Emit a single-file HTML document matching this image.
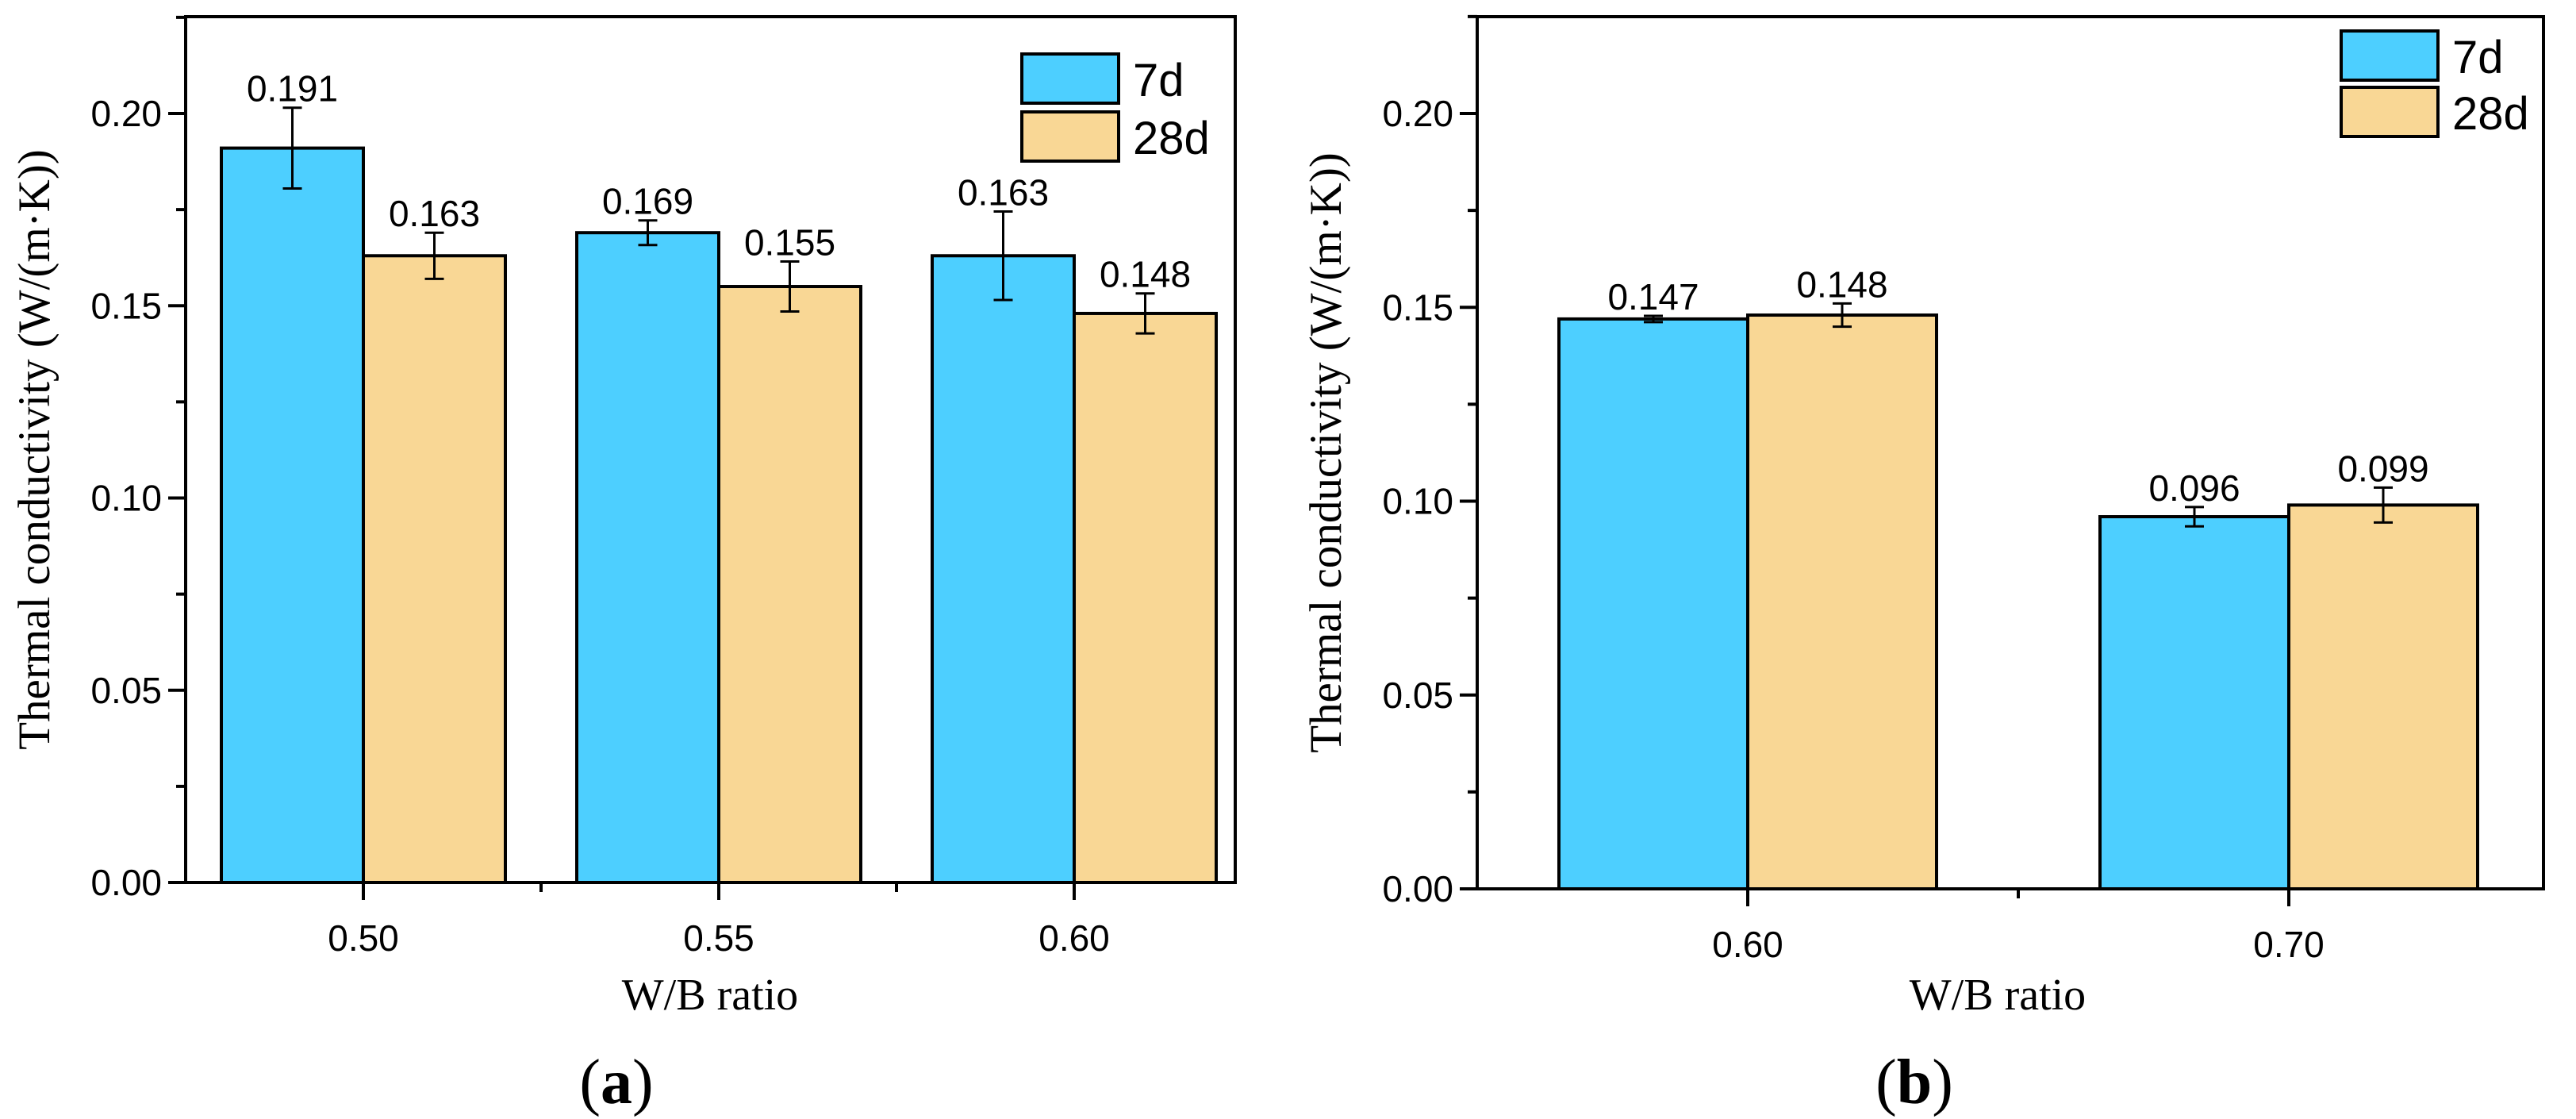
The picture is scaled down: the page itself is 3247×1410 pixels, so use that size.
<!DOCTYPE html>
<html><head><meta charset="utf-8"><style>
html,body{margin:0;padding:0;background:#fff;}
svg{display:block;}
</style></head><body>
<svg id="chart" width="3247" height="1410" xmlns="http://www.w3.org/2000/svg"></svg>
<script>
const catsA = ["0.50","0.55","0.60"];
const d7A = [0.191,0.169,0.163];
const d28A = [0.163,0.155,0.148];
const e7A = [0.0105,0.0032,0.0115];
const e28A = [0.006,0.0065,0.0052];
const lbl7A = ["0.191","0.169","0.163"];
const lbl28A = ["0.163","0.155","0.148"];
const catsB = ["0.60","0.70"];
const d7B = [0.147,0.096];
const d28B = [0.148,0.099];
const e7B = [0.0008,0.0025];
const e28B = [0.003,0.0045];
const lbl7B = ["0.147","0.096"];
const lbl28B = ["0.148","0.099"];
const yTicks = [0,0.05,0.10,0.15,0.20];
const yTickLabels = ["0.00","0.05","0.10","0.15","0.20"];

const NS="http://www.w3.org/2000/svg";
const svg=document.getElementById('chart');
function mk(tag,attrs,parent,text){const e=document.createElementNS(NS,tag);for(const k in attrs)e.setAttribute(k,attrs[k]);if(text!==undefined)e.textContent=text;(parent||svg).appendChild(e);return e;}

function panel(cfg){
  const g=mk('g',{});
  
  
  const yS=v=>cfg.bottom-(cfg.bottom-cfg.y20)*v/0.20;
  const xS=i=>cfg.cx0+i*cfg.sp;
  const bw=cfg.bw;
  cfg.cats.forEach((c,i)=>{
    [[cfg.d7,cfg.e7,cfg.l7,'#4dcfff',-1,'7d'],[cfg.d28,cfg.e28,cfg.l28,'#f9d795',0,'28d']].forEach(([d,e,l,col,off,s])=>{
      const x=xS(i)+off*bw;
      const r=mk('rect',{x:x,y:yS(d[i]),width:bw,height:yS(0)-yS(d[i]),fill:col,stroke:'#000','stroke-width':4},g);
      
      
      const cx=x+bw/2, t=yS(d[i]+e[i]), b=yS(d[i]-e[i]);
      const eb=mk('path',{d:`M${cx},${t}V${b}M${cx-12},${t}H${cx+12}M${cx-12},${b}H${cx+12}`,stroke:'#000','stroke-width':3,fill:'none'},g);
      
      
      const tx=mk('text',{x:cx,y:t-8,'text-anchor':'middle','font-family':'Liberation Sans, sans-serif','font-size':46},g,l[i]);
      
      
    });
    const tk=mk('line',{x1:xS(i),x2:xS(i),y1:cfg.bottom,y2:cfg.bottom+22,stroke:'#000','stroke-width':4},g);
    
    
    const tl=mk('text',{x:xS(i),y:cfg.bottom+86,'text-anchor':'middle','font-family':'Liberation Sans, sans-serif','font-size':46},g,c);
    
    
    if(i<cfg.cats.length-1){
      const mt=mk('line',{x1:xS(i+0.5),x2:xS(i+0.5),y1:cfg.bottom,y2:cfg.bottom+12,stroke:'#000','stroke-width':4},g);
      
      
    }
  });
  yTicks.forEach((v,k)=>{
    const t=mk('line',{x1:cfg.left-22,x2:cfg.left,y1:yS(v),y2:yS(v),stroke:'#000','stroke-width':4},g);
    
    
    const m=mk('line',{x1:cfg.left-12,x2:cfg.left,y1:yS(v+0.025),y2:yS(v+0.025),stroke:'#000','stroke-width':4},g);
    
    
    const l=mk('text',{x:cfg.left-30,y:yS(v)+16,'text-anchor':'end','font-family':'Liberation Sans, sans-serif','font-size':46},g,yTickLabels[k]);
    
    
  });
  const fr=mk('rect',{x:cfg.left,y:cfg.top,width:cfg.right-cfg.left,height:cfg.bottom-cfg.top,fill:'none',stroke:'#000','stroke-width':4},g);
  
  
  [['7d','#4dcfff',cfg.lg.y1],['28d','#f9d795',cfg.lg.y2]].forEach(([n,c,y])=>{
    const r=mk('rect',{x:cfg.lg.x,y:y,width:122,height:62,fill:c,stroke:'#000','stroke-width':4},g);
    
    
    const t=mk('text',{x:cfg.lg.x+140,y:y+53,'font-family':'Liberation Sans, sans-serif','font-size':58},g,n);
    
    
  });
  const yt=mk('text',{x:0,y:0,transform:`translate(${cfg.ytx},${(cfg.top+cfg.bottom)/2}) rotate(-90)`,'text-anchor':'middle','font-family':'Liberation Serif, serif','font-size':57},g,'Thermal conductivity (W/(m·K))');
  
  
  const xt=mk('text',{x:cfg.xtx,y:1272,'text-anchor':'middle','font-family':'Liberation Serif, serif','font-size':56},g,'W/B ratio');
  
  
  const pl=mk('text',{x:cfg.plx,y:1390,'text-anchor':'middle','font-family':'Liberation Serif, serif','font-size':80},g);
  
  
  mk('tspan',{},pl,'(');
  mk('tspan',{'font-weight':'bold'},pl,cfg.pl);
  mk('tspan',{},pl,')');
}
panel({name:'panel-a',cats:catsA,d7:d7A,d28:d28A,e7:e7A,e28:e28A,l7:lbl7A,l28:lbl28A,
  left:234,right:1557,top:21,bottom:1112,y20:143,cx0:458,sp:448,bw:179,
  lg:{x:1288,y1:68,y2:141},ytx:62,xtx:895,plx:777,pl:'a'});
panel({name:'panel-b',cats:catsB,d7:d7B,d28:d28B,e7:e7B,e28:e28B,l7:lbl7B,l28:lbl28B,
  left:1862,right:3206,top:21,bottom:1120,y20:143,cx0:2203,sp:682,bw:238,
  lg:{x:2951,y1:39,y2:110},ytx:1690,xtx:2518,plx:2413,pl:'b'});
</script>
</body></html>
